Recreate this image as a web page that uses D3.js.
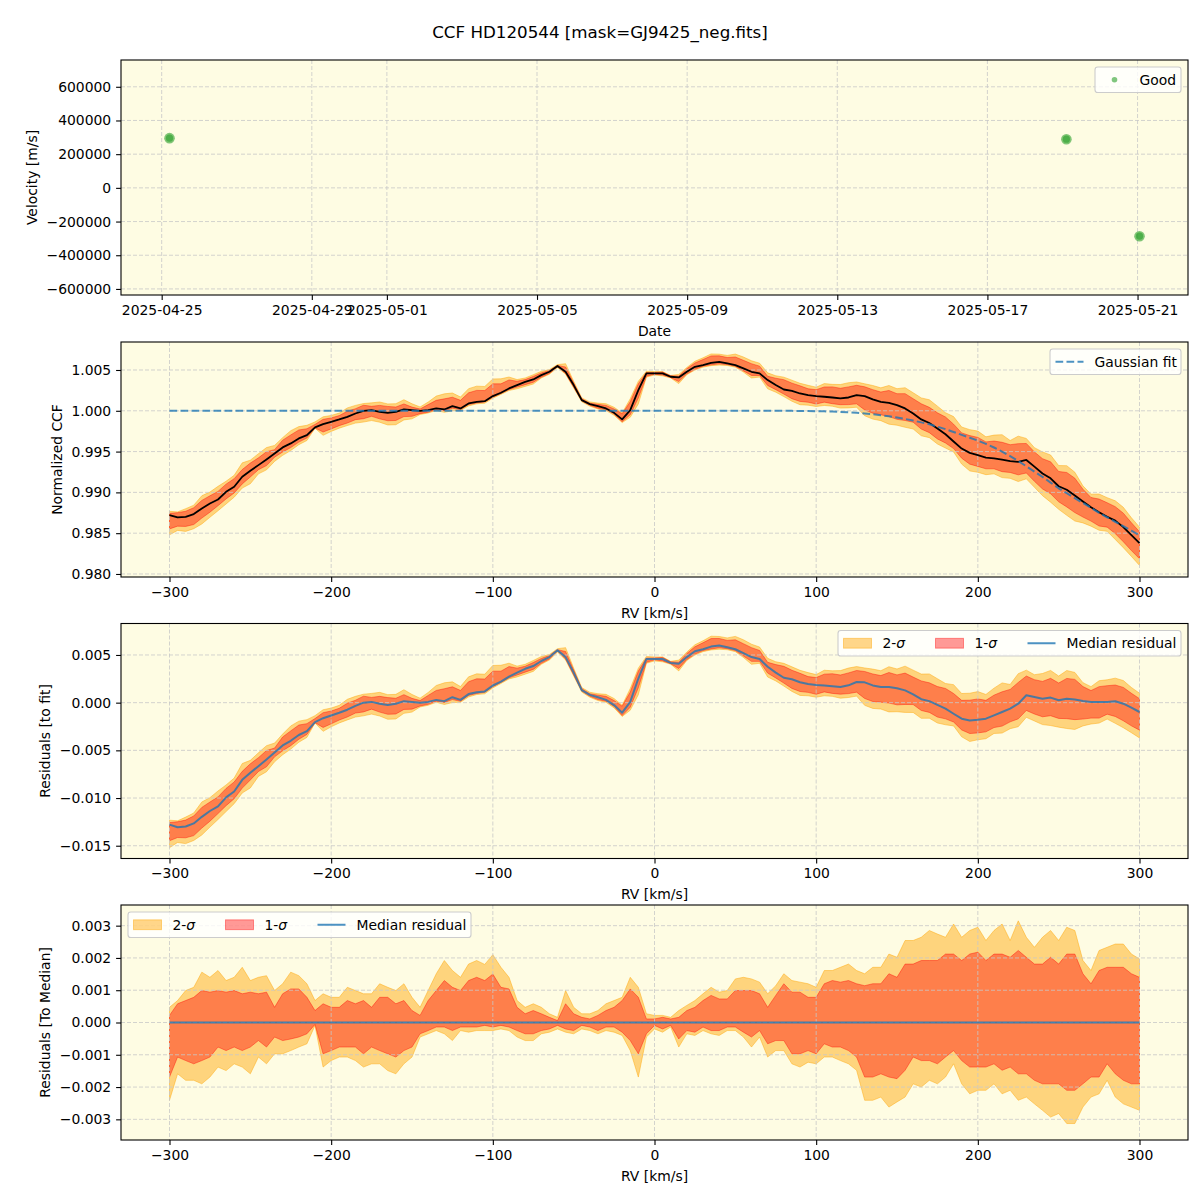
<!DOCTYPE html>
<html>
<head>
<meta charset="utf-8">
<script src="https://cdn.jsdelivr.net/npm/d3@7"></script>
<style>
  body { margin: 0; background: #fff; }
  svg text { font-family: "DejaVu Sans", sans-serif; fill: #000; }
</style>
</head>
<body>
<script>
// ---- values ----
const obsDates = ["2025-04-25T05:00:00Z", "2025-05-19T02:30:00Z", "2025-05-21T01:15:00Z"];
const obsVel = [295000, 289000, -287000];

const rv = [-300,-295,-290,-285,-280,-275,-270,-265,-260,-255,
  -250,-245,-240,-235,-230,-225,-220,-215,-210,-205,
  -200,-195,-190,-185,-180,-175,-170,-165,-160,-155,
  -150,-145,-140,-135,-130,-125,-120,-115,-110,-105,
  -100,-95,-90,-85,-80,-75,-70,-65,-60,-55,
  -50,-45,-40,-35,-30,-25,-20,-15,-10,-5,
  0,5,10,15,20,25,30,35,40,45,
  50,55,60,65,70,75,80,85,90,95,
  100,105,110,115,120,125,130,135,140,145,
  150,155,160,165,170,175,180,185,190,195,
  200,205,210,215,220,225,230,235,240,245,
  250,255,260,265,270,275,280,285,290,295,
  300];

// median normalized CCF
const ccfMedian = [0.98721,0.98693,0.98701,0.98734,0.98803,0.98864,0.98913,0.99007,0.99069,0.99191,
  0.99265,0.99334,0.99404,0.99477,0.99551,0.99600,0.99661,0.99702,0.99796,0.99837,
  0.99865,0.99894,0.99926,0.99967,1.00000,1.00008,0.99988,0.99975,0.99988,1.00016,
  1.00008,1.00000,1.00008,1.00029,1.00016,1.00057,1.00029,1.00090,1.00110,1.00118,
  1.00180,1.00221,1.00274,1.00315,1.00355,1.00384,1.00437,1.00478,1.00550,1.00478,
  1.00315,1.00131,1.00082,1.00057,1.00029,0.99975,0.99895,1.00008,1.00253,1.00458,
  1.00458,1.00458,1.00417,1.00409,1.00478,1.00539,1.00560,1.00588,1.00600,1.00580,
  1.00560,1.00519,1.00478,1.00458,1.00376,1.00315,1.00261,1.00245,1.00212,1.00192,
  1.00180,1.00172,1.00163,1.00151,1.00163,1.00192,1.00180,1.00139,1.00110,1.00098,
  1.00069,1.00029,0.99967,0.99894,0.99850,0.99783,0.99712,0.99624,0.99537,0.99484,
  0.99456,0.99427,0.99417,0.99402,0.99382,0.99374,0.99397,0.99315,0.99232,0.99173,
  0.99075,0.99032,0.98962,0.98888,0.98817,0.98757,0.98702,0.98654,0.98574,0.98477,
  0.98377];

// gaussian fit
const gaussFit = [1,1,1,1,1,1,1,1,1,1,
  1,1,1,1,1,1,1,1,1,1,
  1,1,1,1,1,1,1,1,1,1,
  1,1,1,1,1,1,1,1,1,1,
  1,1,1,1,1,1,1,1,1,1,
  1,1,1,1,1,1,1,1,1,1,
  1,1,1,1,1,1,1,1,1,1,
  1,1,1,1,1,1,1,0.99999,0.99998,0.99997,
  0.99995,0.99993,0.99990,0.99986,0.99981,0.99975,0.99967,0.99958,0.99946,0.99933,
  0.99918,0.99900,0.99880,0.99858,0.99834,0.99806,0.99775,0.99740,0.99705,0.99670,
  0.99635,0.99595,0.99550,0.99500,0.99445,0.99385,0.99320,0.99255,0.99190,0.99120,
  0.99050,0.98990,0.98930,0.98870,0.98810,0.98750,0.98695,0.98640,0.98585,0.98530,
  0.98475];

// band edges relative to the median, in units of 1e-3
const up2 = [0.47,0.68,0.99,1.09,1.56,1.40,1.61,1.30,1.40,1.71,
  1.30,1.40,1.45,0.99,1.20,1.56,1.45,1.20,0.68,0.89,
  0.78,0.78,1.09,0.99,0.89,0.89,1.20,1.09,0.99,1.20,
  0.78,0.47,0.99,1.51,1.92,1.61,1.40,1.81,1.92,1.80,
  2.10,1.71,1.40,0.68,0.47,0.58,0.47,0.27,0.16,0.99,
  0.47,0.27,0.27,0.37,0.58,0.68,0.78,1.40,1.09,0.27,
  0.22,0.22,0.16,0.37,0.53,0.68,0.89,1.09,0.94,0.99,
  1.35,1.40,1.35,1.25,0.89,1.14,1.51,1.30,1.25,1.20,
  1.09,1.61,1.61,1.71,1.81,1.61,1.51,1.71,1.71,2.12,
  2.02,2.54,2.54,2.64,2.85,2.74,2.64,3.05,2.64,2.85,
  2.95,2.54,2.85,3.05,2.54,3.15,2.64,2.33,2.64,2.85,
  2.54,2.95,2.85,1.92,1.61,2.23,2.33,2.43,2.43,2.12,
  1.97];
const up1 = [0.22,0.58,0.68,0.78,0.99,0.94,0.99,0.94,0.99,0.89,
  0.94,0.89,0.94,0.47,0.89,1.04,1.04,0.78,0.37,0.58,
  0.47,0.47,0.68,0.58,0.68,0.47,0.78,0.78,0.58,0.68,
  0.37,0.22,0.68,0.99,1.30,1.09,0.99,1.30,1.40,1.30,
  1.50,1.09,1.04,0.47,0.27,0.37,0.27,0.16,0.06,0.58,
  0.27,0.16,0.11,0.22,0.37,0.47,0.68,1.04,0.78,0.11,
  0.11,0.16,0.11,0.16,0.37,0.47,0.68,0.84,0.73,0.73,
  0.99,0.99,0.99,0.89,0.47,0.84,1.20,0.94,0.94,0.78,
  0.78,1.20,1.30,1.25,1.30,1.20,1.14,1.20,1.20,1.51,
  1.40,1.81,1.81,1.92,1.92,1.92,2.12,2.12,1.92,2.12,
  2.18,1.92,2.12,2.12,2.02,2.23,2.02,1.81,1.81,2.02,
  1.81,2.12,2.12,1.51,1.20,1.61,1.71,1.71,1.71,1.51,
  1.40];
const lo1 = [-1.69,-1.07,-1.18,-1.28,-1.18,-1.07,-0.76,-0.87,-0.76,-0.87,
  -0.76,-0.56,-0.76,-0.45,-0.56,-0.51,-0.45,-0.35,-0.06,-0.97,
  -0.87,-0.76,-0.76,-0.76,-0.97,-0.76,-0.87,-0.97,-1.07,-0.87,
  -0.76,-0.35,-0.25,-0.14,-0.14,-0.25,-0.14,-0.14,-0.14,-0.09,
  -0.14,-0.09,-0.14,-0.25,-0.35,-0.35,-0.25,-0.20,-0.09,-0.20,
  -0.25,-0.09,-0.14,-0.25,-0.14,-0.14,-0.30,-0.56,-0.97,-0.35,
  -0.09,-0.20,-0.09,-0.51,-0.25,-0.30,-0.14,-0.25,-0.25,-0.14,
  -0.14,-0.30,-0.45,-0.25,-0.66,-0.56,-0.56,-0.97,-0.97,-0.87,
  -0.97,-0.66,-0.76,-0.76,-0.87,-1.07,-1.69,-1.69,-1.59,-1.69,
  -1.74,-1.48,-1.07,-1.18,-1.18,-1.28,-1.07,-0.87,-1.18,-1.38,
  -1.38,-1.38,-1.28,-1.48,-1.38,-1.59,-1.59,-1.79,-1.90,-1.90,
  -1.90,-2.10,-2.10,-1.90,-1.69,-1.69,-1.28,-1.59,-1.79,-1.90,
  -1.90];
const lo2 = [-2.41,-1.59,-1.79,-1.79,-1.90,-1.69,-1.38,-1.49,-1.28,-1.38,
  -1.59,-1.07,-1.28,-0.97,-0.97,-0.87,-0.76,-0.66,-0.09,-1.38,
  -1.18,-1.07,-1.07,-1.18,-1.38,-1.28,-1.28,-1.49,-1.59,-1.28,
  -1.07,-0.45,-0.35,-0.25,-0.35,-0.56,-0.25,-0.30,-0.25,-0.25,
  -0.25,-0.20,-0.25,-0.45,-0.56,-0.56,-0.35,-0.30,-0.20,-0.30,
  -0.35,-0.20,-0.25,-0.35,-0.25,-0.30,-0.40,-0.87,-1.69,-0.45,
  -0.20,-0.30,-0.14,-0.76,-0.35,-0.40,-0.25,-0.35,-0.40,-0.25,
  -0.25,-0.45,-0.76,-0.45,-1.07,-0.87,-0.87,-1.28,-1.38,-1.23,
  -1.28,-1.07,-1.07,-1.18,-1.28,-1.48,-2.41,-2.41,-2.31,-2.62,
  -2.46,-2.31,-1.90,-2.00,-1.79,-1.90,-1.69,-1.28,-1.90,-2.21,
  -2.10,-2.10,-1.90,-2.21,-2.10,-2.41,-2.31,-2.52,-2.72,-2.93,
  -2.82,-3.13,-3.13,-2.62,-2.31,-2.21,-1.79,-2.31,-2.52,-2.62,
  -2.72];

const dateTicks = ["2025-04-25","2025-04-29","2025-05-01","2025-05-05","2025-05-09","2025-05-13","2025-05-17","2025-05-21"];
const velTicks = [-600000,-400000,-200000,0,200000,400000,600000];
const rvTicks = [-300,-200,-100,0,100,200,300];
const ccfTicks = [0.980,0.985,0.990,0.995,1.000,1.005];
const resTicks = [-0.015,-0.010,-0.005,0.000,0.005];
const medTicks = [-0.003,-0.002,-0.001,0.000,0.001,0.002,0.003];

// ---- layout ----
const w = 1200, h = 1200;
const left = 121, right = 1188, ph = 235;
const fs = 13.9;
const bgCol = "#fefce3";
const orange = "#ffa500", red = "#ff0000", blue = "#1f77b4";

console.log([ccfMedian, gaussFit, up2, up1, lo1, lo2].map(a => a.length), rv.length);

const svg = d3.select("body").append("svg").attr("width", w).attr("height", h);
svg.append("rect").attr("width", w).attr("height", h).attr("fill", "#fff");

svg.append("text")
  .attr("x", 600).attr("y", 38)
  .attr("text-anchor", "middle")
  .style("font-size", "16.7px")
  .text("CCF HD120544 [mask=GJ9425_neg.fits]");

function pad5(ext) {
  const d = (ext[1] - ext[0]) * 0.05;
  return [ext[0] - d, ext[1] + d];
}

function makePanel(top, x, yDomain, xTicks, xFmt, yTicks, yFmt, xLabel, yLabel, yLabelX) {
  const y = d3.scaleLinear().domain(yDomain).range([top + ph, top]);
  const g = svg.append("g");
  g.append("rect").attr("x", left).attr("y", top).attr("width", right - left).attr("height", ph).attr("fill", bgCol);
  const bands = g.append("g");
  const grid = g.append("g").attr("stroke", "#c8c8c8").attr("stroke-width", 0.8).attr("stroke-dasharray", "4,2");
  grid.selectAll(".gx").data(xTicks).join("line").attr("class", "gx")
    .attr("x1", d => x(d)).attr("x2", d => x(d)).attr("y1", top).attr("y2", top + ph);
  grid.selectAll(".gy").data(yTicks).join("line").attr("class", "gy")
    .attr("x1", left).attr("x2", right).attr("y1", d => y(d)).attr("y2", d => y(d));
  const lines = g.append("g");
  g.append("rect").attr("x", left).attr("y", top).attr("width", right - left).attr("height", ph)
    .attr("fill", "none").attr("stroke", "#000").attr("stroke-width", 1.1);

  const xa = g.append("g").attr("transform", `translate(0,${top + ph})`)
    .call(d3.axisBottom(x).tickValues(xTicks).tickFormat(xFmt).tickSize(4.9).tickPadding(4.9));
  const ya = g.append("g").attr("transform", `translate(${left},0)`)
    .call(d3.axisLeft(y).tickValues(yTicks).tickFormat(yFmt).tickSize(4.9).tickPadding(4.9));
  [xa, ya].forEach(a => {
    a.select(".domain").remove();
    a.attr("font-size", fs);
    a.selectAll("line").attr("stroke", "#000").attr("stroke-width", 1.1);
  });

  g.append("text").attr("x", (left + right) / 2).attr("y", top + ph + 40.5)
    .attr("text-anchor", "middle").style("font-size", fs + "px").text(xLabel);
  g.append("text").attr("transform", `translate(${yLabelX},${top + ph / 2}) rotate(-90)`)
    .attr("text-anchor", "middle").attr("dy", "0.35em").style("font-size", fs + "px").text(yLabel);
  return { g, y, bands, lines };
}

function legendBox(g, x0, y0, wid) {
  g.append("rect").attr("x", x0).attr("y", y0).attr("width", wid).attr("height", 25.5).attr("rx", 2.8)
    .attr("fill", "#fff").attr("fill-opacity", 0.8).attr("stroke", "#cccccc").attr("stroke-width", 1.1);
}

function sigmaText(g, x, y, n) {
  const t = g.append("text").attr("x", x).attr("y", y).style("font-size", fs + "px");
  t.append("tspan").text(n + "-");
  t.append("tspan").style("font-style", "italic").text("σ");
}

function bandLegend(g, x0, y0) {
  legendBox(g, x0, y0, 343);
  const cy = y0 + 12.75;
  g.append("rect").attr("x", x0 + 5.5).attr("y", cy - 4.9).attr("width", 28).attr("height", 9.8)
    .attr("fill", orange).attr("fill-opacity", 0.45).attr("stroke", orange).attr("stroke-opacity", 0.45);
  sigmaText(g, x0 + 44.5, cy + 5, 2);
  g.append("rect").attr("x", x0 + 97.5).attr("y", cy - 4.9).attr("width", 28).attr("height", 9.8)
    .attr("fill", red).attr("fill-opacity", 0.4).attr("stroke", red).attr("stroke-opacity", 0.4);
  sigmaText(g, x0 + 136.5, cy + 5, 1);
  g.append("line").attr("x1", x0 + 189.5).attr("x2", x0 + 217.5).attr("y1", cy).attr("y2", cy)
    .attr("stroke", blue).attr("stroke-opacity", 0.8).attr("stroke-width", 2);
  g.append("text").attr("x", x0 + 228.5).attr("y", cy + 5).style("font-size", fs + "px").text("Median residual");
}

// ---- panel 1: velocities ----
const parseDay = d3.utcParse("%Y-%m-%d");
const dates = obsDates.map(d => new Date(d));
const xDate = d3.scaleUtc()
  .domain(pad5(d3.extent(dates, d => +d)).map(v => new Date(v)))
  .range([left, right]);
const p1 = makePanel(60, xDate, [-636000, 759000], dateTicks.map(parseDay), d3.utcFormat("%Y-%m-%d"),
  velTicks, d3.format("d"), "Date", "Velocity [m/s]", 32);
p1.lines.selectAll(".outer").data(dates).join("circle").attr("class", "outer")
  .attr("cx", d => xDate(d)).attr("cy", (d, i) => p1.y(obsVel[i])).attr("r", 5.3)
  .attr("fill", "#2ca02c").attr("fill-opacity", 0.6);
p1.lines.selectAll(".inner").data(dates).join("circle").attr("class", "inner")
  .attr("cx", d => xDate(d)).attr("cy", (d, i) => p1.y(obsVel[i])).attr("r", 3.6)
  .attr("fill", "#2ca02c").attr("fill-opacity", 0.6);
legendBox(p1.g, 1095, 67, 86);
p1.g.append("circle").attr("cx", 1114.5).attr("cy", 79.75).attr("r", 2.8).attr("fill", "#2ca02c").attr("fill-opacity", 0.6);
p1.g.append("text").attr("x", 1139.5).attr("y", 84.75).style("font-size", fs + "px").text("Good");

// ---- panels 2-4: CCF ----
const xRv = d3.scaleLinear().domain(pad5(d3.extent(rv))).range([left, right]);
const pts = rv.map((r, i) => ({
  r, med: ccfMedian[i], fit: gaussFit[i],
  u2: up2[i] * 1e-3, u1: up1[i] * 1e-3, l1: lo1[i] * 1e-3, l2: lo2[i] * 1e-3
}));

function drawBands(p, base) {
  const a2 = d3.area().x(d => xRv(d.r)).y0(d => p.y(base(d) + d.l2)).y1(d => p.y(base(d) + d.u2));
  const a1 = d3.area().x(d => xRv(d.r)).y0(d => p.y(base(d) + d.l1)).y1(d => p.y(base(d) + d.u1));
  p.bands.append("path").datum(pts).attr("d", a2)
    .attr("fill", orange).attr("fill-opacity", 0.45).attr("stroke", orange).attr("stroke-opacity", 0.45).attr("stroke-width", 1);
  p.bands.append("path").datum(pts).attr("d", a1)
    .attr("fill", red).attr("fill-opacity", 0.4).attr("stroke", red).attr("stroke-opacity", 0.4).attr("stroke-width", 1);
}

function drawLine(p, val, color, opacity, width, dash) {
  const ln = d3.line().x(d => xRv(d.r)).y(d => p.y(val(d)));
  p.lines.append("path").datum(pts).attr("d", ln).attr("fill", "none")
    .attr("stroke", color).attr("stroke-opacity", opacity).attr("stroke-width", width)
    .attr("stroke-dasharray", dash || null).attr("stroke-linejoin", "round");
}

const fmt3 = d3.format(".3f");

const p2 = makePanel(342, xRv, [0.97963, 1.00843], rvTicks, d3.format("d"), ccfTicks, fmt3,
  "RV [km/s]", "Normalized CCF", 57);
drawBands(p2, d => d.med);
drawLine(p2, d => d.med, "#000", 1, 1.8);
drawLine(p2, d => d.fit, blue, 0.8, 2, "7.7,3.3");
legendBox(p2.g, 1050, 349, 131);
p2.g.append("line").attr("x1", 1055.5).attr("x2", 1083.5).attr("y1", 361.75).attr("y2", 361.75)
  .attr("stroke", blue).attr("stroke-opacity", 0.8).attr("stroke-width", 2).attr("stroke-dasharray", "7.7,3.3");
p2.g.append("text").attr("x", 1094.5).attr("y", 366.75).style("font-size", fs + "px").text("Gaussian fit");

const p3 = makePanel(623.5, xRv, [-0.01634, 0.0083], rvTicks, d3.format("d"), resTicks, fmt3,
  "RV [km/s]", "Residuals [to fit]", 45);
drawBands(p3, d => d.med - d.fit);
drawLine(p3, d => d.med - d.fit, blue, 0.8, 2);
bandLegend(p3.g, 838, 630.5);

const p4 = makePanel(905, xRv, [-0.00364, 0.00364], rvTicks, d3.format("d"), medTicks, fmt3,
  "RV [km/s]", "Residuals [To Median]", 45);
drawBands(p4, d => 0);
drawLine(p4, d => 0, blue, 0.8, 2);
bandLegend(p4.g, 128, 912);
</script>
</body>
</html>
